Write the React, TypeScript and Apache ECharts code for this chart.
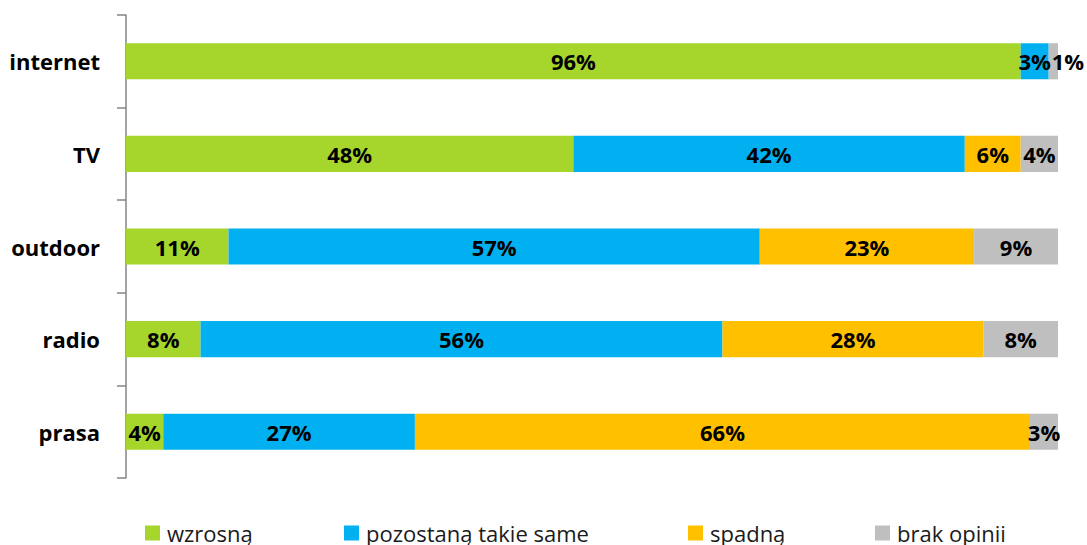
import React, { useEffect, useRef } from "react";
import * as echarts from "echarts";

const categories = ["internet", "TV", "outdoor", "radio", "prasa"];
const seriesNames = ["wzrosną", "pozostaną takie same", "spadną", "brak opinii"];
const wzrosna = [96, 48, 11, 8, 4];
const pozostana = [3, 42, 57, 56, 27];
const spadna = [0, 6, 23, 28, 66];
const brak = [1, 4, 9, 8, 3];
const colors = ["#A6D62B", "#00B0F0", "#FFC000", "#BFBFBF"];
const legendLeft = [145, 344, 688, 875];

const FONT = "'Open Sans', Lato, sans-serif";

export default function App() {
  const ref = useRef<HTMLDivElement>(null);
  useEffect(() => {
    if (!ref.current) return;
    const chart = echarts.init(ref.current, undefined, { renderer: "svg" });
    const all = [wzrosna, pozostana, spadna, brak];
    const series = all.map((vals, si) => ({
      name: seriesNames[si],
      type: "bar",
      stack: "total",
      barCategoryGap: "61%",
      itemStyle: { color: colors[si] },
      label: {
        show: true,
        position: "inside",
        color: "#000",
        fontWeight: "bold",
        fontSize: 22,
        fontFamily: FONT,
        formatter: (p: any) => (p.value > 0 ? p.value + "%" : ""),
      },
      data: vals.map((v, i) => {
        if (si === 3 && i === 0) {
          return { value: v, label: { position: "insideLeft", distance: 3 } };
        }
        return v;
      }),
    }));
    chart.setOption({
      animation: false,
      textStyle: { fontFamily: FONT },
      grid: { left: 126, right: 29, top: 15, bottom: 67 },
      xAxis: {
        type: "value",
        min: 0,
        max: 100,
        show: false,
      },
      yAxis: {
        type: "category",
        data: categories,
        inverse: true,
        axisLine: { show: true, lineStyle: { color: "#868686", width: 1.5 } },
        axisTick: { show: true, length: 9, lineStyle: { color: "#868686", width: 1.5 } },
        axisLabel: {
          margin: 26,
          color: "#000",
          fontWeight: "bold",
          fontSize: 22,
          fontFamily: FONT,
        },
        splitLine: { show: false },
      },
      legend: seriesNames.map((n, i) => ({
        data: [n],
        left: legendLeft[i],
        top: 522,
        padding: 0,
        icon: "rect",
        itemWidth: 15,
        itemHeight: 15,
        itemGap: 0,
        textStyle: { fontSize: 22, lineHeight: 20, color: "#1a1a1a", fontFamily: FONT, padding: [0, 0, 0, 2] },
      })),
      series,
    });
    return () => chart.dispose();
  }, []);
  return <div ref={ref} style={{ width: 1087, height: 545, position: "absolute", left: 0, top: 0 }} />;
}
